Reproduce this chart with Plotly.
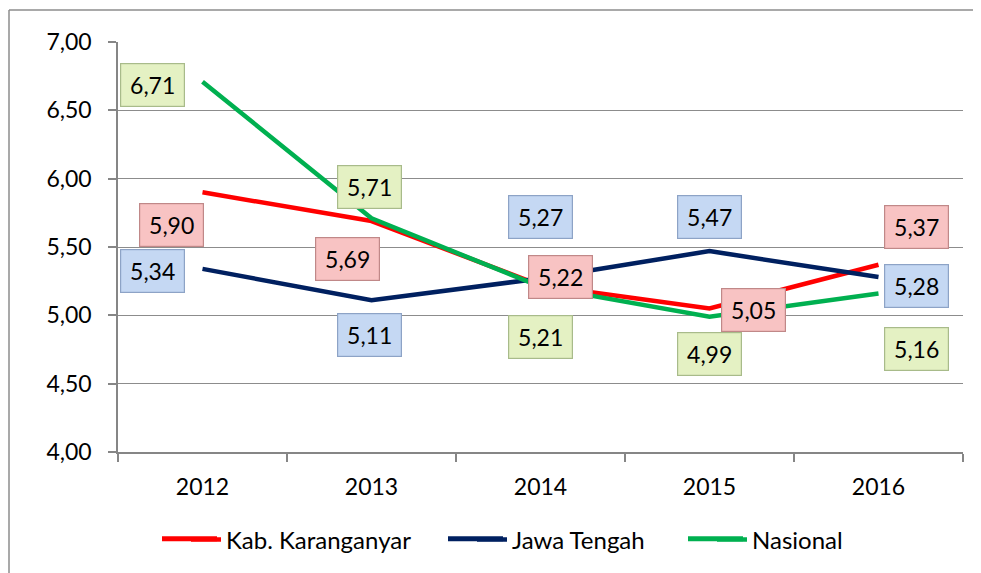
import plotly.graph_objects as go

years = ["2012", "2013", "2014", "2015", "2016"]
karanganyar = [5.90, 5.69, 5.22, 5.05, 5.37]
jateng = [5.34, 5.11, 5.27, 5.47, 5.28]
nasional = [6.71, 5.71, 5.21, 4.99, 5.16]
series_names = ["Kab. Karanganyar", "Jawa Tengah", "Nasional"]
y_ticks = [4.0, 4.5, 5.0, 5.5, 6.0, 6.5, 7.0]

colors = ["#FF0000", "#002060", "#00B050"]
box_bg = ["#F8C3C3", "#C5D8F3", "#E4F1C3"]
box_border = ["#C08888", "#8DA3C6", "#A8BB8A"]

shifts = [
    [(-31, -33), (-24, -38), (20, 8), (44, -1), (38, 38)],
    [(-50, -2), (-2, -35), (0, 61), (0, 34), (38, -9)],
    [(-50, -3), (-2, 31), (0, -50), (0, -37), (38, -56)],
]

font = "Lato"
# plot area in figure pixels: left 110, width 845, top 34, height 411
PW, PH = 845.0, 411.0
legend_keys = ["legend", "legend2", "legend3"]
legend_left_px = [162, 448, 688]   # page x where each legend key starts
LEG_Y = -0.2117

fig = go.Figure()
all_vals = [karanganyar, jateng, nasional]
for name, vals, c, lk in zip(series_names, all_vals, colors, legend_keys):
    fig.add_trace(go.Scatter(x=years, y=vals, mode="lines", name=name,
                             line=dict(color=c, width=4.5), legend=lk))

annotations = []
for si, vals in enumerate(all_vals):
    for xi, v in enumerate(vals):
        dx, dy = shifts[si][xi]
        annotations.append(dict(x=xi, y=v, xref="x", yref="y",
                                text=f"{v:.2f}".replace(".", ","), showarrow=False,
                                xshift=dx, yshift=dy, width=61, height=40,
                                bgcolor=box_bg[si], bordercolor=box_border[si],
                                borderwidth=1.2, borderpad=1,
                                font=dict(size=23, color="black", family=font)))

# outer chart frame: only top and left edges are visible in the original
fx0 = (9 - 118) / PW
fy1 = (453 - 10) / PH
shapes = [
    dict(type="line", xref="paper", yref="paper", x0=fx0, x1=1.1, y0=fy1, y1=fy1,
         line=dict(color="#8C8C8C", width=1.5), layer="below"),
    dict(type="line", xref="paper", yref="paper", x0=fx0, x1=fx0, y0=-0.4, y1=fy1,
         line=dict(color="#8C8C8C", width=1.5), layer="below"),
]
# lengthen legend key lines to match the original 55 px keys
for c, lp in zip(colors, legend_left_px):
    shapes.append(dict(type="line", xref="paper", yref="paper",
                       x0=(lp - 118) / PW, x1=(lp + 55 - 118) / PW,
                       y0=LEG_Y, y1=LEG_Y,
                       line=dict(color=c, width=5)))

legends = {}
for lk, lp in zip(legend_keys, legend_left_px):
    legends[lk] = dict(orientation="h", x=(lp + 24 - 118) / PW, xanchor="left",
                       y=LEG_Y, yanchor="middle", font=dict(size=24),
                       bgcolor="rgba(0,0,0,0)")

fig.update_layout(
    annotations=annotations,
    shapes=shapes,
    width=973, height=565,
    margin=dict(l=110, r=18, t=34, b=120),
    paper_bgcolor="white", plot_bgcolor="white",
    separators=",.",
    font=dict(family=font, size=23, color="black"),
    showlegend=True,
    xaxis=dict(type="category", showgrid=False, showline=True, linecolor="#868686",
               linewidth=1.5, ticks="outside", tickson="boundaries", ticklen=8,
               tickcolor="#868686", tickwidth=1.5, ticklabelstandoff=14,
               range=[-0.5, 4.5], tickfont=dict(size=23)),
    yaxis=dict(range=[4.0, 7.0], tickvals=y_ticks, tickformat=".2f",
               showgrid=True, gridcolor="#8C8C8C", gridwidth=1.2,
               showline=True, linecolor="#868686", linewidth=1.5,
               ticks="outside", ticklen=8, tickcolor="#868686", tickwidth=1.5,
               ticklabelstandoff=12, zeroline=False, tickfont=dict(size=23)),
    **legends,
)

fig.write_html("out.html")
